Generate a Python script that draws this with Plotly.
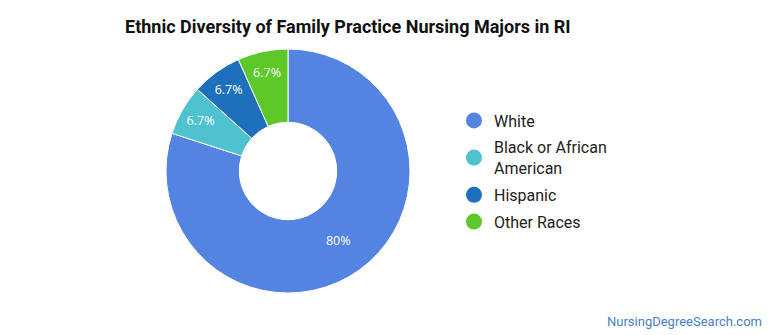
import plotly.graph_objects as go

labels = ["White", "Black or African<br>American", "Hispanic", "Other Races"]
values = [12, 1, 1, 1]
text_labels = ["80%", "6.7%", "6.7%", "6.7%"]
colors = ["#5384E1", "#4FC2CF", "#1F70BC", "#5CC928"]

W, H = 770, 335
cx, cy, r = 288, 171, 122

fig = go.Figure(go.Pie(
    labels=labels,
    values=values,
    text=text_labels,
    textinfo="text",
    textposition="inside",
    insidetextorientation="horizontal",
    textfont=dict(family="Open Sans", size=12.5, color="white"),
    hole=0.4,
    sort=False,
    direction="clockwise",
    rotation=0,
    marker=dict(colors=colors, line=dict(color="white", width=1)),
    domain=dict(x=[(cx - r) / W, (cx + r) / W], y=[1 - (cy + r) / H, 1 - (cy - r) / H]),
    hoverinfo="label+text",
    showlegend=False,
))

# legend entries with circular markers
for lab, col in zip(labels, colors):
    fig.add_trace(go.Scatter(
        x=[None], y=[None], mode="markers", name=lab, legendgroup=lab,
        marker=dict(symbol="circle", size=16, color=col),
        showlegend=True, hoverinfo="skip",
    ))

fig.update_layout(
    width=W, height=H,
    margin=dict(l=0, r=0, t=0, b=0),
    paper_bgcolor="white",
    plot_bgcolor="white",
    xaxis=dict(visible=False),
    yaxis=dict(visible=False),
    title=dict(
        text="<b>Ethnic Diversity of Family Practice Nursing Majors in RI</b>",
        x=125 / W, xanchor="left", y=1 - 27 / H, yanchor="middle",
        font=dict(family="Roboto", size=18, color="#111111"),
    ),
    legend=dict(
        x=454 / W, xanchor="left", y=1 - 171 / H, yanchor="middle",
        font=dict(family="Roboto", size=16, color="#222222"),
        tracegroupgap=3,
    ),
    annotations=[dict(
        text="NursingDegreeSearch.com", x=764 / W, y=1 - 321 / H,
        xref="paper", yref="paper", xanchor="right", yanchor="middle",
        showarrow=False, font=dict(family="Roboto", size=13, color="#4A7EC4"),
    )],
)

fig.write_html("out.html")
